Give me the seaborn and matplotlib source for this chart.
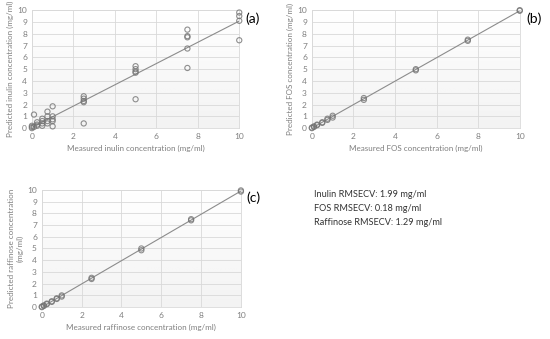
import numpy as np
import matplotlib
matplotlib.use("Agg")
import matplotlib.pyplot as plt
import seaborn as sns

# measured vs predicted concentrations (mg/ml)
inulin_measured = [0, 0, 0, 0.1, 0.1, 0.25, 0.25, 0.25, 0.5, 0.5, 0.5, 0.5,
                   0.75, 0.75, 0.75, 0.75, 1, 1, 1, 1, 1,
                   2.5, 2.5, 2.5, 2.5, 2.5, 5, 5, 5, 5, 5,
                   7.5, 7.5, 7.5, 7.5, 7.5, 10, 10, 10, 10]
inulin_predicted = [0.0, 0.1, 0.2, 1.15, 0.1, 0.5, 0.3, 0.2, 0.8, 0.6, 0.4, 0.2,
                    1.4, 1.0, 0.6, 0.4, 1.85, 1.0, 0.75, 0.6, 0.15,
                    2.7, 2.5, 2.3, 2.2, 0.4, 5.25, 5.0, 4.8, 4.7, 2.45,
                    8.35, 7.8, 7.7, 6.75, 5.1, 9.8, 9.5, 9.1, 7.45]

fos_measured = [0, 0, 0.1, 0.1, 0.25, 0.25, 0.5, 0.5, 0.75, 0.75, 1, 1,
                2.5, 2.5, 5, 5, 7.5, 7.5, 10, 10]
fos_predicted = [0.0, 0.05, 0.1, 0.15, 0.25, 0.3, 0.45, 0.5, 0.7, 0.8, 0.9, 1.05,
                 2.4, 2.55, 4.9, 5.0, 7.4, 7.5, 9.95, 10.0]

raff_measured = [0, 0, 0.1, 0.1, 0.25, 0.25, 0.5, 0.5, 0.75, 0.75, 1, 1,
                 2.5, 2.5, 5, 5, 7.5, 7.5, 10, 10]
raff_predicted = [0.0, 0.05, 0.1, 0.15, 0.25, 0.3, 0.45, 0.5, 0.7, 0.75, 0.9, 1.0,
                  2.4, 2.5, 4.85, 5.0, 7.4, 7.5, 9.85, 9.95]

rmsecv_lines = ["Inulin RMSECV: 1.99 mg/ml",
                "FOS RMSECV: 0.18 mg/ml",
                "Raffinose RMSECV: 1.29 mg/ml"]

sns.set_theme(style="whitegrid")
plt.rcParams["font.family"] = ["Lato", "DejaVu Sans"]

fig = plt.figure(figsize=(5.5, 3.39), dpi=100)

panels = [
    ([0.058, 0.622, 0.377, 0.348], inulin_measured, inulin_predicted,
     "Measured inulin concentration (mg/ml)", "Predicted inulin concentration (mg/ml)", "(a)"),
    ([0.567, 0.622, 0.378, 0.348], fos_measured, fos_predicted,
     "Measured FOS concentration (mg/ml)", "Predicted FOS concentration (mg/ml)", "(b)"),
    ([0.076, 0.094, 0.362, 0.346], raff_measured, raff_predicted,
     "Measured raffinose concentration (mg/ml)", "Predicted raffinose concentration\n(mg/ml)", "(c)"),
]

grad = np.linspace(0, 1, 100)[:, None]

for rect, xs, ys, xlab, ylab, tag in panels:
    ax = fig.add_axes(rect)
    # white-to-grey plot area like the original spreadsheet chart
    ax.imshow(grad, extent=[0, 10, 0, 10], aspect="auto", cmap="Greys",
              vmin=0, vmax=10, origin="upper", zorder=0)
    sns.regplot(x=xs, y=ys, ax=ax, ci=None,
                scatter_kws=dict(s=14, facecolors="none", edgecolors="#737373",
                                 linewidths=0.8, clip_on=False, zorder=3),
                line_kws=dict(color="#8c8c8c", lw=0.8, zorder=2))
    ax.set_xlim(0, 10)
    ax.set_ylim(0, 10)
    ax.set_xticks(range(0, 11, 2))
    ax.set_yticks(range(0, 11, 1))
    ax.grid(True, color="#d9d9d9", lw=0.6)
    ax.set_axisbelow(True)
    for s in ax.spines.values():
        s.set_color("#d9d9d9")
        s.set_linewidth(0.6)
    ax.tick_params(labelsize=6, colors="#7f7f7f", length=0, pad=3.5)
    ax.set_xlabel(xlab, fontsize=5.8, color="#7f7f7f", labelpad=3.5)
    ax.set_ylabel(ylab, fontsize=5.8, color="#7f7f7f", labelpad=2.5)
    ax.text(1.03, 0.93, tag, transform=ax.transAxes, fontsize=10, color="black",
            ha="left", va="center")

fig.text(0.571, 0.44, "\n".join(rmsecv_lines), fontsize=6.6, color="#333333",
         ha="left", va="top", linespacing=1.75)

fig.savefig("out.png", dpi=100)
